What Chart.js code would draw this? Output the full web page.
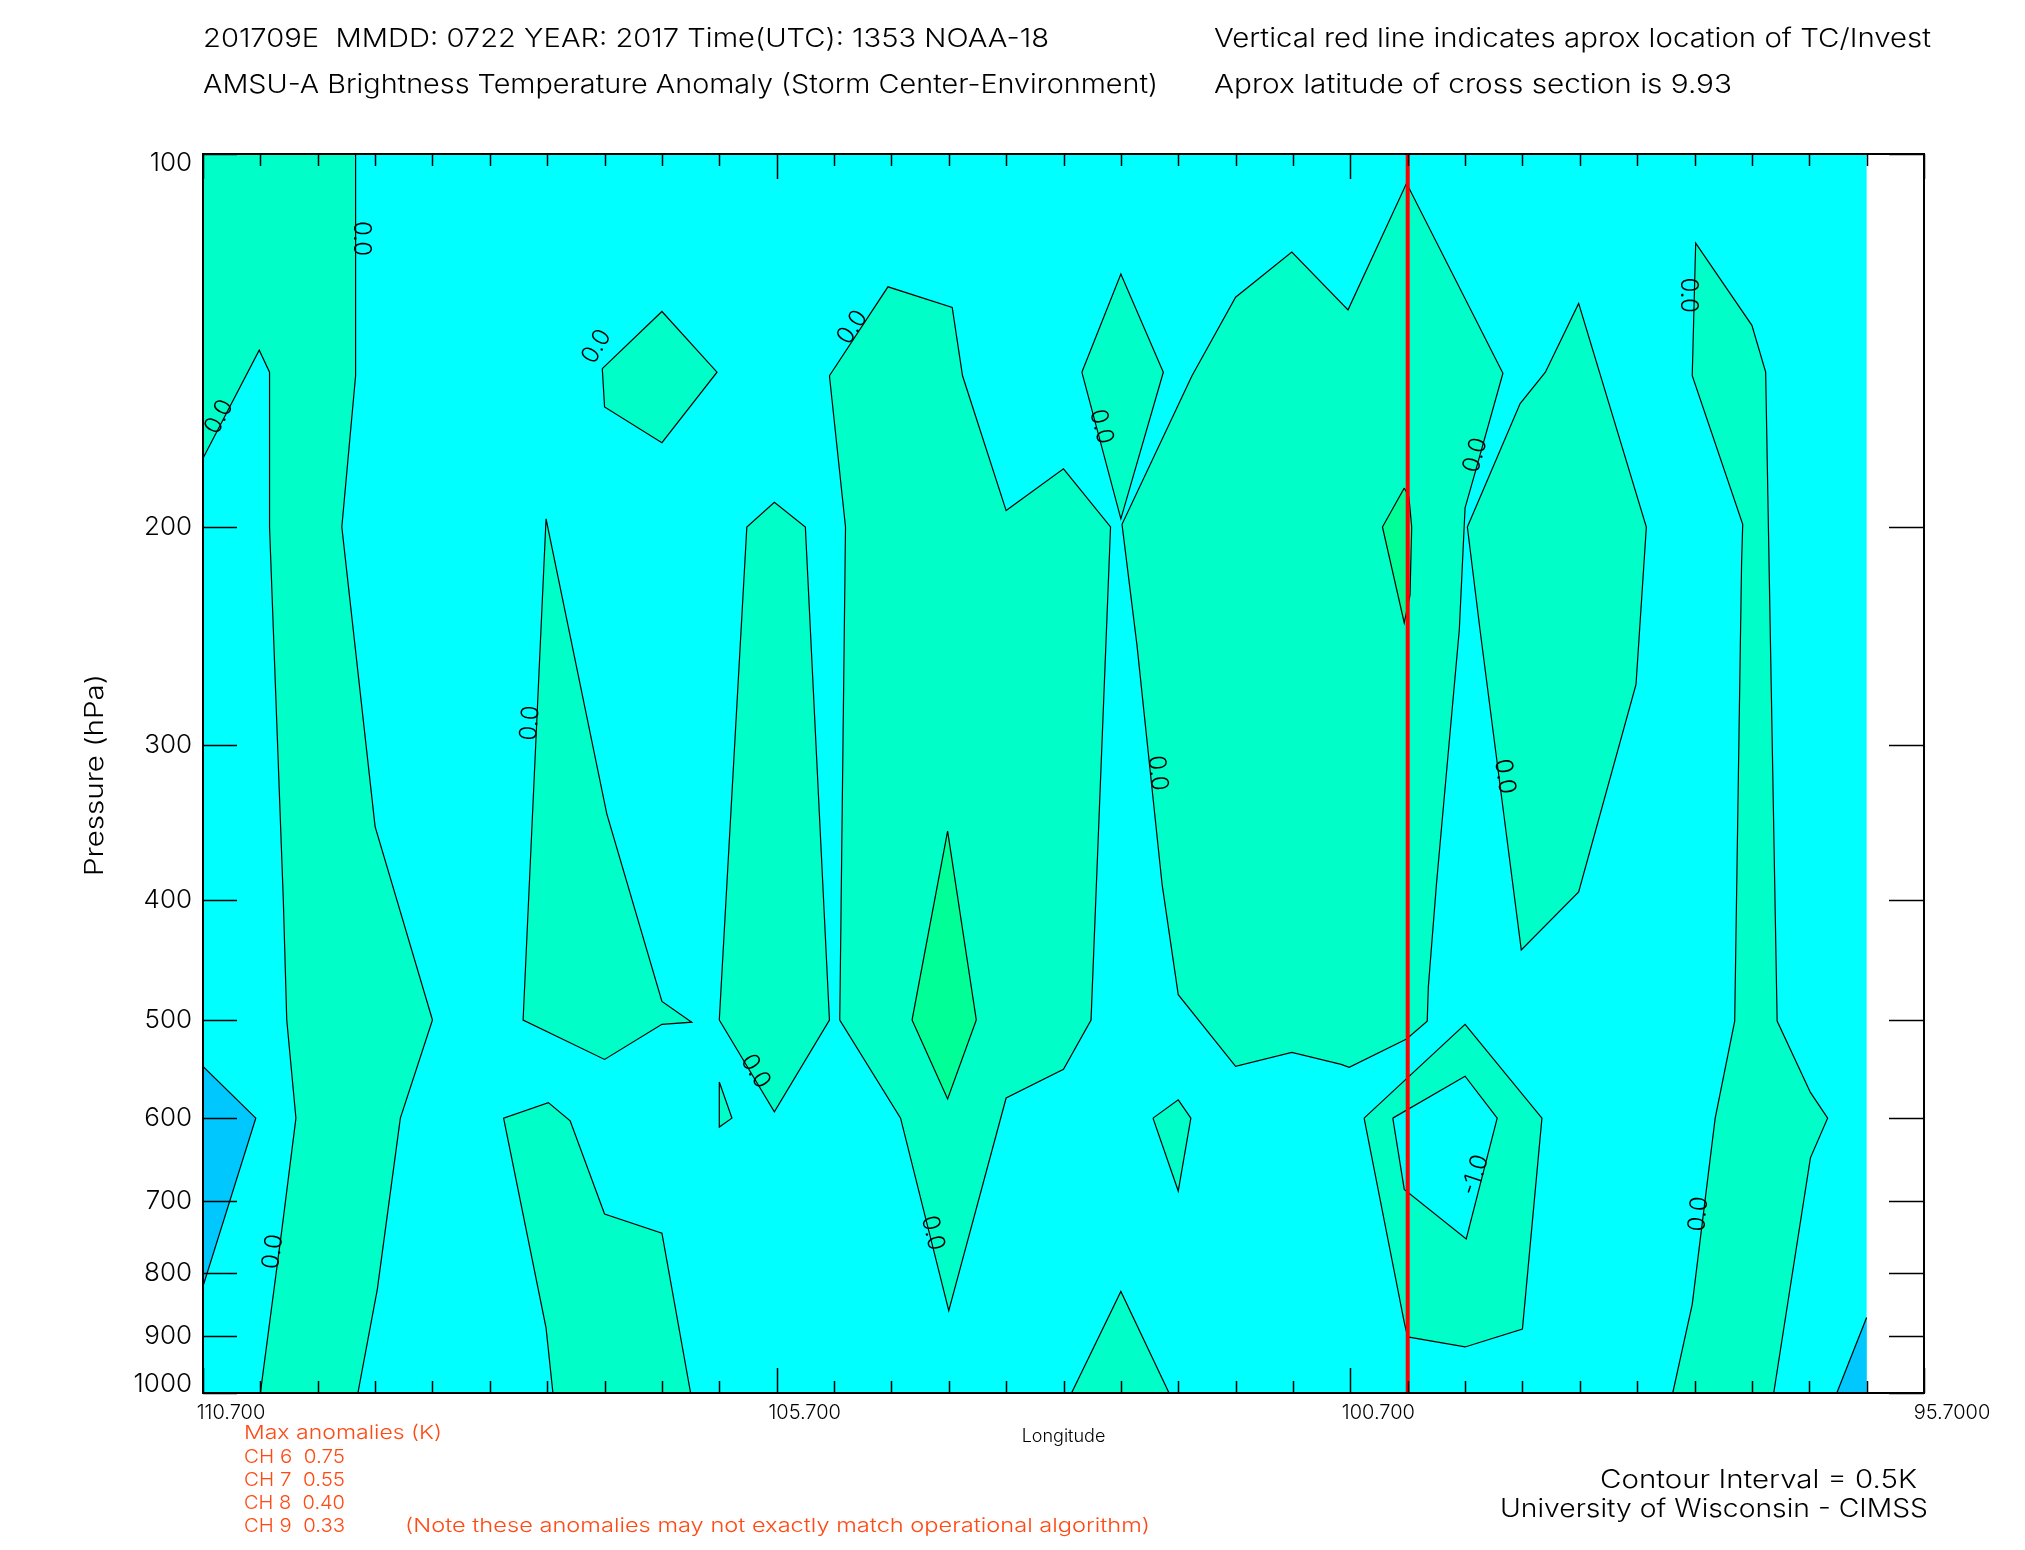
<!DOCTYPE html>
<html>
<head>
<meta charset="utf-8">
<title>AMSU-A Brightness Temperature Anomaly</title>
<script src="https://cdn.jsdelivr.net/npm/chart.js@4.4.1/dist/chart.umd.min.js"></script>
<style>
  body { margin: 0; background: #fff; }
  #page { position: relative; width: 2025px; height: 1550px; overflow: hidden; }
  #chart { position: absolute; left: 0; top: 0; }
  .txt { position: absolute; white-space: pre; line-height: 1; transform-origin: 0 0;
         font-family: 'Inter', 'Liberation Sans', sans-serif; font-weight: 300; color: #000; }
  .red { color: #ff4a14; }
</style>
</head>
<body>
<div id="page">
  <canvas id="chart" width="2025" height="1550"></canvas>

  <div class="txt" data-x="203" data-base="47" data-size="26" data-w="846">201709E  MMDD: 0722 YEAR: 2017 Time(UTC): 1353 NOAA-18</div>
  <div class="txt" data-x="203" data-base="93" data-size="26" data-w="955">AMSU-A Brightness Temperature Anomaly (Storm Center-Environment)</div>
  <div class="txt" data-x="1214" data-base="47" data-size="26" data-w="717">Vertical red line indicates aprox location of TC/Invest</div>
  <div class="txt" data-x="1214" data-base="93" data-size="26" data-w="518">Aprox latitude of cross section is 9.93</div>

  <div class="txt red" data-x="244" data-base="1439" data-size="19" data-w="198">Max anomalies (K)</div>
  <div class="txt red" data-x="244" data-base="1463" data-size="19" data-w="101">CH 6  0.75</div>
  <div class="txt red" data-x="244" data-base="1486" data-size="19" data-w="101">CH 7  0.55</div>
  <div class="txt red" data-x="244" data-base="1509" data-size="19" data-w="101">CH 8  0.40</div>
  <div class="txt red" data-x="244" data-base="1532" data-size="19" data-w="101">CH 9  0.33</div>
  <div class="txt red" data-x="405" data-base="1532" data-size="19" data-w="745">(Note these anomalies may not exactly match operational algorithm)</div>

  <div class="txt" data-x="1600" data-base="1488" data-size="25" data-w="317">Contour Interval = 0.5K</div>
  <div class="txt" data-x="1500" data-base="1517" data-size="25" data-w="428">University of Wisconsin - CIMSS</div>
</div>

<script>
// cross section extent (longitude, hPa)
const WEST = 110.7, EAST = 96.2, TOP = 100, BOTTOM = 1000;
const tcLon = 100.2;

const xTickValues = [110.7, 105.7, 100.7, 95.7];
const xTickLabels = ['110.700', '105.700', '100.700', '95.7000'];
const yTickValues = [100, 200, 300, 400, 500, 600, 700, 800, 900, 1000];
const yTickLabels = ['100', '200', '300', '400', '500', '600', '700', '800', '900', '1000'];

// contour regions as [lon, hPa] vertices
const domain = [[110.7, 100], [96.2, 100], [96.2, 1000], [110.7, 1000]];
const bandWest = [[110.7, 100], [109.37, 100], [109.37, 151], [109.49, 200], [109.2, 349], [108.7, 500],
  [108.98, 600], [109.18, 824], [109.35, 1000], [110.2, 1000], [110.01, 735], [109.89, 600],
  [109.97, 500], [110.0, 400], [110.12, 200], [110.12, 150], [110.21, 144], [110.7, 176]];
const blobTop = [[107.22, 149], [106.7, 134], [106.22, 150], [106.7, 171], [107.2, 160]];
const wedgeWest = [[107.71, 197], [107.91, 500], [107.2, 538], [106.7, 504], [106.44, 502], [106.7, 483], [107.18, 341]];
const lowWest = [[108.08, 600], [107.69, 583], [107.5, 603], [107.2, 717], [106.7, 743], [106.45, 1000],
  [107.65, 1000], [107.71, 886]];
const spindle = [[106.2, 500], [105.96, 200], [105.72, 191], [105.45, 200], [105.24, 500], [105.72, 593]];
const sliver = [[106.2, 561], [106.09, 600], [106.2, 610]];
const centralCore = [[105.24, 151], [104.73, 128], [104.17, 133], [104.08, 151], [103.7, 194], [103.2, 179.5],
  [102.79, 200], [102.96, 500], [103.2, 548], [103.7, 578], [104.2, 858], [104.62, 600], [105.15, 500], [105.1, 200]];
const coreMax = [[104.21, 352], [103.96, 500], [104.21, 579], [104.52, 500]];
const diamondTop = [[103.04, 150], [102.7, 125], [102.33, 150], [102.7, 197]];
const eastCore = [[102.08, 151], [101.7, 130.5], [101.21, 120], [100.72, 133.6], [100.21, 105.6], [99.37, 150.3],
  [99.625, 182.5], [99.7, 193], [99.75, 242], [99.95, 389], [100.02, 470], [100.03, 501], [100.21, 518],
  [100.71, 546], [100.78, 543], [101.21, 531], [101.7, 545], [102.2, 477], [102.34, 389], [102.56, 249], [102.69, 199]];
const tcMax = [[100.23, 186], [100.42, 200], [100.23, 239], [100.18, 227], [100.165, 200], [100.19, 189]];
const eastLobe = [[99.68, 200], [99.22, 159], [99.0, 150], [98.71, 132], [98.12, 200], [98.21, 268],
  [98.71, 394], [99.21, 439], [99.57, 242]];
const tcRing = [[100.58, 600], [99.7, 504], [99.03, 600], [99.2, 888], [99.7, 918], [100.2, 901], [100.23, 877]];
const tcInner = [[100.33, 600], [99.7, 555], [99.42, 600], [99.69, 751], [100.23, 685]];
const smallTri = [[102.42, 600], [102.2, 580], [102.09, 600], [102.2, 687]];
const baseTri = [[103.13, 1000], [102.7, 828], [102.28, 1000]];
const bandEast = [[97.69, 118], [97.2, 137.5], [97.08, 150], [96.98, 501], [96.69, 572], [96.54, 600], [96.69, 646],
  [97.01, 1000], [97.89, 1000], [97.72, 848], [97.52, 600], [97.35, 501], [97.29, 214], [97.28, 199], [97.72, 151]];
const blueWest = [[110.7, 545], [110.24, 600], [110.7, 820]];
const blueEast = [[96.2, 869], [96.2, 1000], [96.46, 1000]];

// contour labels: text, lon, hPa
const contourLabels = [
  ['0.0', 109.32, 117], ['0.0', 110.56, 163], ['0.0', 110.09, 769], ['0.0', 107.27, 143],
  ['0.0', 105.04, 138], ['0.0', 107.85, 288], ['0.0', 105.885, 550], ['0.0', 102.87, 166],
  ['0.0', 104.34, 743], ['0.0', 102.38, 316], ['0.0', 99.61, 175], ['0.0', 99.355, 318],
  ['0.0', 97.756, 130], ['0.0', 97.665, 717], ['-1.0', 99.61, 667]
];
const labelAngles = [90, -62, -82, -60, -56, -85, 59, 75, 76, 84, -74, 82, 90, -84, -72];

const CYAN = '#00ffff', MINT = '#00ffc8', GREEN = '#00ff96', BLUE = '#00c8ff';
const FONT = '"Inter", "Liberation Sans", sans-serif';

const layers = [
  [domain, CYAN, false],
  [bandWest, MINT], [blobTop, MINT], [wedgeWest, MINT], [lowWest, MINT], [spindle, MINT], [sliver, MINT],
  [centralCore, MINT], [diamondTop, MINT], [eastCore, MINT], [eastLobe, MINT], [tcRing, MINT],
  [smallTri, MINT], [baseTri, MINT], [bandEast, MINT],
  [coreMax, GREEN], [tcMax, GREEN], [blueWest, BLUE], [blueEast, BLUE], [tcInner, CYAN]
];

const toXY = pts => pts.map(p => ({x: p[0], y: p[1]}));

function onFrame(a, b) {
  return (a[0] === b[0] && (a[0] === WEST || a[0] === EAST)) ||
         (a[1] === b[1] && (a[1] === TOP || a[1] === BOTTOM));
}

// split a closed region into the contour lines that are not on the plot edge
function contourRuns(poly) {
  const n = poly.length;
  const drawn = poly.map((p, i) => !onFrame(p, poly[(i + 1) % n]));
  if (drawn.every(Boolean)) return [[...poly, poly[0]]];
  const start = drawn.indexOf(false);
  const runs = [];
  let cur = null;
  for (let k = 1; k <= n; k++) {
    const i = (start + k) % n;
    if (drawn[i]) {
      if (!cur) cur = [poly[i]];
      cur.push(poly[(i + 1) % n]);
    } else if (cur) {
      runs.push(cur);
      cur = null;
    }
  }
  if (cur) runs.push(cur);
  return runs;
}

const datasets = [];
layers.forEach(([pts, color], i) => {
  datasets.push({
    data: toXY(pts), fill: 'shape', backgroundColor: color,
    borderColor: 'transparent', borderWidth: 0, pointRadius: 0, tension: 0, order: 100 - i
  });
});
layers.forEach(([pts, color, outline]) => {
  if (outline === false) return;
  contourRuns(pts).forEach(run => {
    datasets.push({
      data: toXY(run), fill: false, borderColor: '#000', borderWidth: 1.2,
      pointRadius: 0, tension: 0, order: 5
    });
  });
});
datasets.push({
  data: [{x: tcLon, y: TOP}, {x: tcLon, y: BOTTOM}], fill: false,
  borderColor: '#ff0000', borderWidth: 4, pointRadius: 0, order: 1
});

const idlFrame = {
  id: 'idlFrame',
  afterDatasetsDraw(chart) {
    const {ctx, chartArea: a, scales: {x, y}} = chart;
    ctx.save();
    ctx.fillStyle = '#000';

    // contour labels
    ctx.font = '300 24px ' + FONT;
    ctx.textAlign = 'center';
    ctx.textBaseline = 'middle';
    contourLabels.forEach(([txt, lon, p], i) => {
      ctx.save();
      ctx.translate(x.getPixelForValue(lon), y.getPixelForValue(p));
      ctx.rotate(labelAngles[i] * Math.PI / 180);
      ctx.fillText(txt, 0, 0);
      ctx.restore();
    });

    // frame
    ctx.strokeStyle = '#000';
    ctx.lineWidth = 2;
    ctx.strokeRect(a.left, a.top, a.right - a.left, a.bottom - a.top);

    // ticks
    ctx.lineWidth = 1.5;
    ctx.beginPath();
    for (let k = 0; k <= 30; k++) {
      const px = Math.round(x.getPixelForValue(WEST - k * 0.5)) + 0.5;
      const len = k % 10 === 0 ? 25 : 12;
      ctx.moveTo(px, a.bottom); ctx.lineTo(px, a.bottom - len);
      ctx.moveTo(px, a.top); ctx.lineTo(px, a.top + len);
    }
    yTickValues.forEach(v => {
      const py = Math.round(y.getPixelForValue(v)) + 0.5;
      ctx.moveTo(a.left, py); ctx.lineTo(a.left + 34, py);
      ctx.moveTo(a.right, py); ctx.lineTo(a.right - 35, py);
    });
    ctx.stroke();

    // x tick labels
    ctx.font = '300 20px ' + FONT;
    ctx.textAlign = 'center';
    ctx.textBaseline = 'alphabetic';
    xTickValues.forEach((v, i) => {
      ctx.fillText(xTickLabels[i], x.getPixelForValue(v) + 28, a.bottom + 26);
    });

    // y tick labels
    ctx.font = '300 26px ' + FONT;
    ctx.textAlign = 'right';
    ctx.textBaseline = 'middle';
    yTickValues.forEach((v, i) => {
      const py = Math.min(Math.max(y.getPixelForValue(v), a.top + 9), a.bottom - 9);
      ctx.fillText(yTickLabels[i], a.left - 11, py);
    });

    // axis titles
    ctx.font = '300 18px ' + FONT;
    ctx.textAlign = 'center';
    ctx.textBaseline = 'alphabetic';
    ctx.fillText('Longitude', (a.left + a.right) / 2, a.bottom + 49);

    ctx.save();
    ctx.translate(103, 775);
    ctx.rotate(-Math.PI / 2);
    ctx.font = '300 25px ' + FONT;
    ctx.textAlign = 'left';
    const t = 'Pressure (hPa)';
    const tw = ctx.measureText(t).width;
    ctx.scale(202 / tw, 1);
    ctx.fillText(t, -tw / 2, 0);
    ctx.restore();

    ctx.restore();
  }
};

new Chart(document.getElementById('chart'), {
  type: 'line',
  data: {datasets},
  options: {
    responsive: false,
    animation: false,
    devicePixelRatio: 1,
    events: [],
    layout: {padding: {left: 203, top: 154, right: 101, bottom: 157}},
    scales: {
      x: {type: 'linear', min: 95.7, max: 110.7, reverse: true, display: false},
      y: {type: 'logarithmic', min: 100, max: 1000, reverse: true, display: false}
    },
    plugins: {legend: {display: false}, tooltip: {enabled: false}}
  },
  plugins: [idlFrame]
});

// header / footer text, stretched to the widths in the reference
document.querySelectorAll('.txt').forEach(el => {
  const size = +el.dataset.size;
  el.style.fontSize = size + 'px';
  el.style.left = el.dataset.x + 'px';
  el.style.top = (+el.dataset.base - 0.8465 * size) + 'px';
  const w = el.getBoundingClientRect().width;
  el.style.transform = 'scaleX(' + (+el.dataset.w / w) + ')';
});
</script>
</body>
</html>
